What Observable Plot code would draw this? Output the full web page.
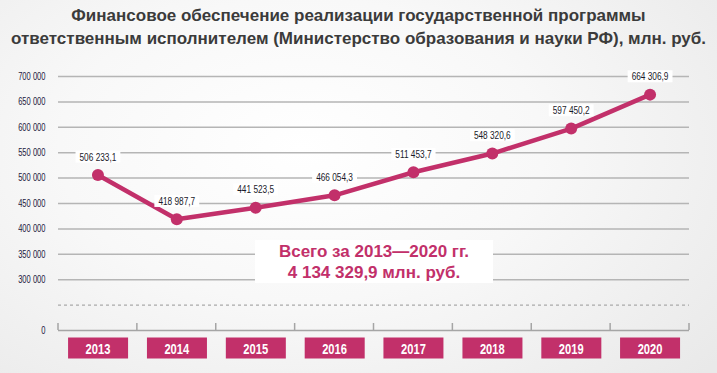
<!DOCTYPE html>
<html><head><meta charset="utf-8">
<script src="https://cdn.jsdelivr.net/npm/d3@7"></script>
<script src="https://cdn.jsdelivr.net/npm/@observablehq/plot@0.6"></script>
<style>
html,body{margin:0;padding:0;}
body{width:717px;height:373px;overflow:hidden;position:relative;
 background:radial-gradient(ellipse 75% 90% at 42% 40%, #ffffff 0%, #f8f8f8 45%, #e9e9e9 100%);
 font-family:"Liberation Sans",Arial,sans-serif;}
#title{height:50px;box-sizing:border-box;padding-top:4px;text-align:center;font-weight:bold;font-size:17px;line-height:23px;color:#3b3b3b;}
#total{position:absolute;left:255px;top:240px;width:238px;height:43px;background:#fff;color:#c2306a;font-weight:bold;font-size:17px;line-height:21px;text-align:center;box-sizing:border-box;padding-top:1px;}
svg{display:block;}
</style></head>
<body>
<div id="title"></div>
<div id="chart"></div>
<div id="total"></div>
<script>
const titleLines = ["Финансовое обеспечение реализации государственной программы",
  "ответственным исполнителем (Министерство образования и науки РФ), млн. руб."];
const years = ["2013","2014","2015","2016","2017","2018","2019","2020"];
const values = [506233.1, 418987.7, 441523.5, 466054.3, 511453.7, 548320.6, 597450.2, 664306.9];
const valueLabels = ["506 233,1","418 987,7","441 523,5","466 054,3","511 453,7","548 320,6","597 450,2","664 306,9"];
const yTicks = [200000,300000,350000,400000,450000,500000,550000,600000,650000,700000];
const yTickLabels = ["0","300 000","350 000","400 000","450 000","500 000","550 000","600 000","650 000","700 000"];
const axisBreak = 250000;
const totalLines = ["Всего за 2013—2020 гг.","4 134 329,9 млн. руб."];

const MAGENTA = "#c2306a";
document.getElementById("title").innerHTML = titleLines.join("<br>");
document.getElementById("total").innerHTML = totalLines.join("<br>");

const data = years.map((year,i)=>({year, value: values[i], label: valueLabels[i]}));

const plot = Plot.plot({
  width:717, height:323, marginTop:26, marginBottom:43, marginLeft:58, marginRight:28,
  style:{background:"transparent", fontFamily:'"Liberation Sans",Arial,sans-serif', overflow:"visible"},
  x:{type:"band", domain:years, padding:0, round:false, axis:null, label:null},
  y:{domain:[200000,700000], axis:null, label:null},
  marks:[
    Plot.ruleY(yTicks.slice(1), {stroke:"#b5b5b5", strokeWidth:1.5}),
    Plot.ruleY([axisBreak], {stroke:"#aaaaaa", strokeWidth:1.2, strokeDasharray:"3,3"}),
    Plot.ruleY([yTicks[0]], {stroke:"#a5a5a5", strokeWidth:1.5}),
    Plot.axisY({ticks:yTicks, tickFormat:d=>yTickLabels[yTicks.indexOf(d)], tickSize:0, tickPadding:13, fontSize:10.5, color:"#1d2040", label:null, className:"yaxis"}),
    Plot.axisX({tickSize:0, tickPadding:12, fontSize:15.5, fontWeight:"bold", color:"white", label:null, className:"xaxis"}),
    Plot.line(data, {x:"year", y:"value", stroke:MAGENTA, strokeWidth:4.5}),
    Plot.dot(data, {x:"year", y:"value", r:6, fill:MAGENTA}),
    Plot.text(data, {x:"year", y:"value", text:"label", dy:-18, fontSize:11.5, fill:"#1a1a2a", className:"vlabel"})
  ]
});
document.getElementById("chart").appendChild(plot);

const svg = d3.select(plot);
function condense(sel, f){
  sel.each(function(){
    const L = this.getComputedTextLength();
    this.setAttribute("textLength", L*f);
    this.setAttribute("lengthAdjust","spacingAndGlyphs");
  });
}
function boxBehind(sel, fill, w, h, pad){
  sel.each(function(){
    const bb = this.getBBox();
    const t = this.getAttribute("transform");
    const cx = bb.x + bb.width/2, cy = bb.y + bb.height/2;
    const W = w ?? bb.width + 2*pad, H = h ?? bb.height;
    const r = document.createElementNS("http://www.w3.org/2000/svg","rect");
    r.setAttribute("x", cx - W/2); r.setAttribute("y", cy - H/2);
    r.setAttribute("width", W); r.setAttribute("height", H);
    r.setAttribute("fill", fill); r.setAttribute("stroke","none");
    if (t) r.setAttribute("transform", t);
    this.parentNode.insertBefore(r, this);
  });
}
condense(svg.selectAll(".yaxis text"), 0.72);
condense(svg.selectAll(".vlabel text"), 0.72);
condense(svg.selectAll(".xaxis text"), 0.72);
boxBehind(svg.selectAll(".vlabel text"), "#ffffff", null, null, 4);
svg.selectAll(".xaxis text").attr("fill","white").style("fill","white");
boxBehind(svg.selectAll(".xaxis text"), MAGENTA, 60, 21, 0);

// boundary ticks on the base axis
const xs = plot.scale("x"), ys = plot.scale("y");
const base = ys.apply(yTicks[0]);
const bounds = years.map(y=>xs.apply(y)).concat([xs.apply(years[years.length-1]) + xs.bandwidth]);
svg.append("g").selectAll("line").data(bounds).join("line")
  .attr("x1",d=>d).attr("x2",d=>d).attr("y1",base).attr("y2",base-7)
  .attr("stroke","#a5a5a5").attr("stroke-width",1.5);
</script>
</body></html>
